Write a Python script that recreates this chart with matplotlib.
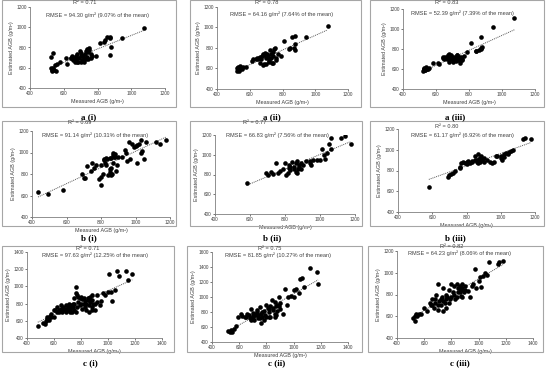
import numpy as np
import matplotlib
matplotlib.use('Agg')
import matplotlib.pyplot as plt
from matplotlib.patches import Rectangle

plt.rcParams['font.family'] = ['Liberation Sans', 'DejaVu Sans']

# ---- data ----
a_meas = [1075, 945, 875, 872, 858, 845, 840, 812, 878, 874, 790, 760, 752, 748, 745, 740, 735, 730, 725, 720,
          715, 710, 705, 700, 695, 690, 685, 680, 675, 670, 665, 660, 655, 650, 645, 640, 620, 612, 580, 560,
          548, 535, 530, 525, 522, 540, 552, 528, 535, 745, 730, 700, 760, 680, 770, 720]
a1_est = [990, 893, 905, 892, 905, 870, 858, 842, 800, 725, 712, 735, 795, 775, 760, 785, 705, 690, 740, 700,
          715, 680, 750, 720, 770, 700, 655, 735, 690, 720, 660, 700, 680, 715, 695, 700, 640, 700, 655, 638,
          625, 600, 580, 595, 705, 575, 572, 570, 745, 690, 770, 660, 700, 660, 720, 655]
a2_est = [1010, 910, 915, 800, 905, 800, 790, 870, 840, 780, 720, 700, 800, 790, 760, 720, 650, 700, 780, 690,
          670, 720, 740, 700, 750, 730, 640, 740, 720, 690, 650, 710, 700, 690, 700, 690, 690, 670, 610, 610,
          600, 590, 615, 580, 605, 620, 595, 600, 580, 650, 740, 640, 680, 630, 740, 660]
a3_est = [1110, 1015, 915, 800, 790, 780, 780, 860, 820, 810, 770, 690, 720, 700, 680, 720, 700, 740, 690, 710,
          700, 720, 700, 680, 720, 740, 700, 750, 740, 730, 700, 710, 720, 700, 710, 720, 650, 655, 655, 610,
          600, 590, 600, 610, 580, 620, 595, 600, 585, 660, 740, 670, 700, 670, 730, 680]

b1_meas = [435, 490, 580, 690, 700, 710, 720, 740, 750, 760, 770, 790, 800, 800, 810, 815, 820, 825, 830, 835,
           840, 850, 855, 860, 860, 865, 870, 870, 875, 880, 885, 890, 900, 920, 940, 945, 950, 960, 970, 980,
           990, 1000, 1010, 1010, 1020, 1030, 1030, 1040, 1050, 1060, 1120, 1140, 1175, 860, 830, 880, 850, 800, 870]
b1_est = [635, 610, 650, 800, 760, 760, 875, 830, 900, 860, 880, 750, 770, 700, 800, 930, 940, 905, 880, 940,
          790, 850, 820, 860, 950, 800, 980, 900, 960, 985, 830, 880, 960, 960, 1020, 1000, 920, 1100, 940, 1080,
          1050, 1060, 1070, 900, 1080, 1120, 1000, 1010, 940, 1100, 1100, 1080, 1120, 790, 950, 960, 950, 880, 1000]

b2_meas = [580, 690, 700, 720, 730, 750, 760, 770, 790, 800, 805, 815, 820, 830, 840, 850, 860, 870, 875, 880,
           890, 900, 920, 940, 950, 960, 980, 1000, 1010, 1020, 1030, 1040, 1050, 1060, 1065, 1120, 1140, 1175,
           850, 860, 880, 890, 830, 820, 870, 940]
b2_est = [715, 820, 800, 830, 810, 920, 820, 840, 860, 920, 800, 820, 900, 880, 930, 860, 920, 820, 860, 900,
          920, 900, 940, 920, 900, 950, 950, 950, 1060, 1000, 960, 1020, 1110, 1060, 1170, 1170, 1190, 1110,
          880, 830, 880, 860, 850, 870, 940, 940]

b3_meas = [580, 690, 700, 710, 720, 730, 760, 760, 780, 790, 800, 810, 820, 830, 850, 860, 870, 875, 880, 880,
           885, 890, 900, 920, 940, 950, 960, 970, 980, 1000, 1010, 1020, 1030, 1040, 1050, 1060, 1070, 1130,
           1140, 1175, 860, 870, 850, 830, 880, 900, 800, 770, 1000, 1020]
b3_est = [645, 740, 760, 770, 780, 800, 820, 830, 880, 870, 880, 890, 870, 890, 940, 900, 960, 910, 880, 920,
          940, 900, 920, 900, 880, 870, 880, 940, 940, 920, 900, 960, 970, 960, 980, 990, 1000, 1100,
          1110, 1100, 880, 870, 900, 880, 900, 880, 860, 870, 940, 930]

c1_meas = [480, 520, 530, 540, 545, 550, 560, 570, 580, 600, 610, 620, 640, 650, 660, 670, 680, 690, 700, 700,
           710, 720, 720, 730, 740, 750, 760, 760, 770, 780, 790, 800, 810, 820, 830, 840, 850, 860, 860, 870,
           870, 880, 880, 890, 900, 920, 940, 950, 960, 980, 1000, 1010, 1020, 1030, 1050, 1070, 1080, 1130, 1150, 1180,
           730, 740, 750, 760, 780, 800, 820, 830, 850, 840, 680, 690, 700, 710, 660, 640, 600, 580, 620, 650,
           720, 750, 770, 790, 810, 880, 900, 860, 920, 880]
c1_est = [540, 580, 560, 600, 620, 640, 610, 660, 680, 650, 720, 700, 720, 740, 700, 760, 740, 780, 720, 760,
          790, 700, 740, 760, 800, 720, 700, 990, 760, 820, 780, 880, 740, 800, 760, 720, 840, 780, 860, 820,
          880, 760, 900, 800, 720, 820, 780, 830, 920, 900, 930, 1140, 940, 830, 960, 1180, 1120, 1180, 1080, 1150,
          700, 760, 860, 920, 880, 800, 860, 830, 870, 790, 720, 700, 740, 760, 740, 700, 720, 640, 760, 780,
          780, 800, 900, 860, 850, 840, 800, 700, 900, 720]

c2_meas = [520, 530, 540, 550, 560, 580, 590, 610, 620, 640, 650, 660, 670, 680, 690, 700, 700, 710, 720, 730,
           730, 740, 750, 760, 770, 780, 790, 800, 810, 820, 830, 840, 850, 860, 860, 870, 880, 890, 900, 920,
           940, 950, 960, 980, 1000, 1020, 1040, 1050, 1060, 1080, 1120, 1170, 1180, 800, 780, 740, 860, 880, 900, 750,
           770, 820, 830, 850, 870, 890, 820, 760, 700, 690, 720, 1000]
c2_est = [550, 540, 560, 530, 580, 610, 740, 780, 750, 740, 730, 770, 760, 720, 840, 750, 790, 700, 760, 800,
          830, 720, 870, 780, 740, 820, 760, 900, 860, 800, 740, 960, 860, 940, 740, 880, 900, 1000, 920, 780,
          1110, 900, 1000, 1020, 1000, 1110, 1060, 1240, 1260, 1130, 1390, 1330, 1170, 740, 700, 760, 780, 820, 840, 720,
          800, 840, 880, 830, 760, 880, 740, 660, 740, 700, 780, 1090]

c3_meas = [520, 530, 530, 540, 550, 560, 580, 600, 620, 640, 650, 660, 670, 680, 690, 700, 700, 710, 720, 730,
           740, 740, 750, 760, 770, 780, 790, 800, 810, 820, 830, 840, 850, 860, 870, 880, 880, 890, 900, 920,
           940, 950, 960, 970, 980, 1000, 1010, 1020, 1030, 1050, 1060, 1080, 1140, 1150, 1180, 760, 780, 800, 820, 840,
           860, 880, 720, 700, 740, 680, 660, 850, 870, 900, 760]
c3_est = [580, 600, 560, 620, 600, 620, 620, 680, 650, 720, 700, 760, 680, 720, 800, 700, 900, 740, 760, 780,
          650, 860, 720, 800, 780, 840, 760, 900, 820, 880, 760, 900, 820, 880, 790, 860, 900, 820, 840, 830,
          780, 880, 900, 1030, 860, 920, 960, 870, 970, 1000, 980, 1100, 1080, 1100, 1110, 680, 720, 780, 800, 780,
          820, 780, 700, 660, 740, 760, 700, 860, 840, 880, 760]

panel_names = ['a (i)', 'a (ii)', 'a (iii)', 'b (i)', 'b (ii)', 'b (iii)', 'c (i)', 'c (ii)', 'c (iii)']
r2_text = ['R² = 0.71', 'R² = 0.78', 'R² = 0.83', 'R² = 0.69', 'R² = 0.77', 'R² = 0.80',
           'R² = 0.71', 'R² = 0.75', 'R² = 0.82']
rmse_text = ['RMSE = 94.30 g/m² (9.07% of the mean)', 'RMSE = 64.16 g/m² (7.64% of the mean)',
             'RMSE = 52.39 g/m² (7.39% of the mean)', 'RMSE = 91.14 g/m² (10.31% of the mean)',
             'RMSE = 66.83 g/m² (7.56% of the mean)', 'RMSE = 61.17 g/m² (6.92% of the mean)',
             'RMSE = 97.63 g/m² (12.25% of the mean)', 'RMSE = 81.85 g/m² (10.27% of the mean)',
             'RMSE = 64.23 g/m² (8.06% of the mean)']
xs = [a_meas, a_meas, a_meas, b1_meas, b2_meas, b3_meas, c1_meas, c2_meas, c3_meas]
ys = [a1_est, a2_est, a3_est, b1_est, b2_est, b3_est, c1_est, c2_est, c3_est]

# ---- layout in pixels ----
W, H = 550, 373
fig = plt.figure(figsize=(W / 100, H / 100), dpi=100)


def fbox(l, t, r, b):
    return [l / W, 1 - b / H, (r - l) / W, (b - t) / H]


# axes boxes (left, top, right, bottom), xlim, ylim
ax_boxes = [(30, 7, 165, 88), (217, 7, 348, 89), (403, 9, 535, 89),
            (32, 131, 170, 217), (215, 135, 355, 214), (398, 129, 535, 212),
            (27, 252, 162, 338), (212, 252, 348, 342), (397, 251, 533, 338)]
xlims = [(400, 1200)] * 6 + [(400, 1400)] * 3
ylims = [(400, 1200)] * 6 + [(400, 1400), (400, 1600), (400, 1200)]
frames = [(2, 0, 176, 107), (190, 0, 361, 107), (370, 0, 544, 107),
          (2, 121, 176, 226), (190, 121, 362, 226), (370, 121, 544, 226),
          (2, 246, 174, 352), (187, 246, 362, 352), (368, 246, 543, 352)]
label_pos = [(89, 117), (272, 117), (455, 117), (89, 238), (272, 238), (455, 238),
             (90, 363), (277, 363), (460, 363)]
r2_pos = [(85, 3), (267, 2), (447, 3), (80, 123), (255, 123), (447, 126), (88, 248), (270, 248), (452, 247)]
rmse_pos = [(97, 15), (282, 14), (462, 13), (95, 135), (277, 135), (462, 135), (95, 255), (278, 255), (460, 253)]

for i in range(9):
    l, t, r, b = frames[i]
    fig.patches.append(Rectangle((l / W, 1 - b / H), (r - l) / W, (b - t) / H, transform=fig.transFigure,
                                 fill=False, edgecolor='#a6a6a6', linewidth=0.8))

    ax = fig.add_axes(fbox(*ax_boxes[i]))
    x = np.array(xs[i], dtype=float)
    y = np.array(ys[i], dtype=float)
    ax.scatter(x, y, s=11, color='black', linewidths=0, zorder=3)
    k, c = np.polyfit(x, y, 1)
    xx = np.array([x.min(), x.max()])
    ax.plot(xx, k * xx + c, linestyle=(0, (1, 1)), color='#555555', linewidth=0.7, zorder=2)

    ax.set_xlim(*xlims[i])
    ax.set_ylim(*ylims[i])
    ax.set_xticks(np.arange(xlims[i][0], xlims[i][1] + 1, 200))
    ax.set_yticks(np.arange(ylims[i][0], ylims[i][1] + 1, 200))
    ax.tick_params(labelsize=3.4, length=1.5, width=0.5, pad=1, colors='#404040')
    for s in ['top', 'right']:
        ax.spines[s].set_visible(False)
    for s in ['left', 'bottom']:
        ax.spines[s].set_color('#7f7f7f')
        ax.spines[s].set_linewidth(0.6)
    ax.patch.set_alpha(0)
    ax.set_xlabel('Measured AGB (g/m²)', fontsize=3.9, labelpad=1.5, color='#404040')
    ax.set_ylabel('Estimated AGB (g/m²)', fontsize=3.9, labelpad=1.5, color='#404040')

    fig.text(r2_pos[i][0] / W, 1 - r2_pos[i][1] / H, r2_text[i], fontsize=4.1, ha='center', va='center',
             color='#404040')
    fig.text(rmse_pos[i][0] / W, 1 - rmse_pos[i][1] / H, rmse_text[i], fontsize=4.1, ha='center', va='center',
             color='#404040')
    fig.text(label_pos[i][0] / W, 1 - label_pos[i][1] / H, panel_names[i], fontsize=6.5, ha='center',
             va='center', family='Liberation Serif', fontweight='bold')

fig.savefig('out.png', dpi=100)
